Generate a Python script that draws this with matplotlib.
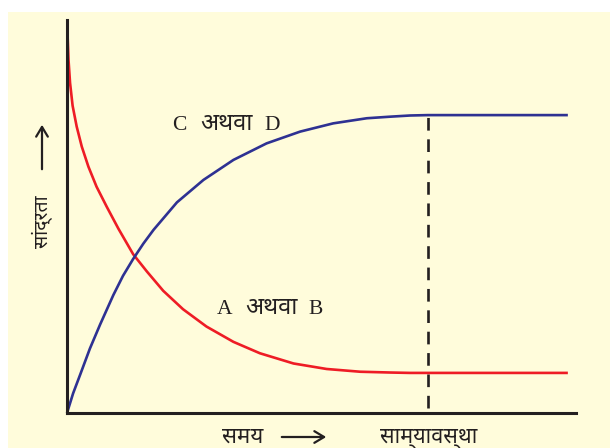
import matplotlib
matplotlib.use("Agg")
import matplotlib.pyplot as plt
from matplotlib import font_manager as fm
from matplotlib.patches import Rectangle, FancyArrowPatch

# values (time, concentration, arbitrary units 0..10)
red_t = [0.01, 0.03, 0.06, 0.11, 0.19, 0.29, 0.42, 0.58, 0.78, 1.01, 1.30, 1.57,
         1.89, 2.28, 2.74, 3.27, 3.79, 4.45, 5.10, 5.76, 6.35, 6.74, 7.07, 9.84]
red_c = [9.66, 8.98, 8.40, 7.82, 7.29, 6.78, 6.27, 5.76, 5.25, 4.69, 4.04, 3.60,
         3.11, 2.64, 2.20, 1.81, 1.52, 1.26, 1.12, 1.05, 1.03, 1.02, 1.02, 1.02]
blue_t = [0.0, 0.12, 0.26, 0.45, 0.65, 0.91, 1.10, 1.30, 1.50, 1.70, 2.16, 2.68,
          3.27, 3.92, 4.58, 5.23, 5.89, 6.35, 6.74, 7.09, 9.84]
blue_c = [0.0, 0.50, 0.98, 1.64, 2.25, 3.00, 3.49, 3.92, 4.31, 4.66, 5.36, 5.93,
          6.44, 6.86, 7.16, 7.37, 7.50, 7.54, 7.57, 7.58, 7.58]
t_eq = 7.09

word_or = "अथवा"
ylab = "सांद्रता"
xlab = "समय"
eq_lab = "साम्यावस्था"

names = {f.name for f in fm.fontManager.ttflist}
deva = [n for n in ["Noto Sans Devanagari", "Mukta", "Hind", "Poppins"] if n in names][:1]
plt.rcParams["font.family"] = ["Liberation Serif"] + deva + ["DejaVu Sans"]

ink = "#231f20"
W, H = 610, 448
fig = plt.figure(figsize=(W / 100, H / 100), dpi=100)
fig.patches.append(Rectangle((8 / W, 0), 1, (H - 12) / H, transform=fig.transFigure,
                             facecolor="#fffcdb", edgecolor="none", zorder=-5))

ax = fig.add_axes([67 / W, (H - 413) / H, 509 / W, 393 / H])
ax.patch.set_visible(False)
ax.set_xlim(0, 10)
ax.set_ylim(0, 10)
for s in ("top", "right"):
    ax.spines[s].set_visible(False)
for s in ("left", "bottom"):
    ax.spines[s].set_linewidth(2.2)
    ax.spines[s].set_color(ink)
ax.set_xticks([])
ax.set_yticks([])

line_kw = dict(lw=1.9, clip_on=False, solid_capstyle="butt", solid_joinstyle="round")
ax.plot(red_t, red_c, color="#ee1c25", **line_kw)
ax.plot(blue_t, blue_c, color="#2e3192", **line_kw)
ax.plot([t_eq, t_eq], [0.13, blue_c[-1]], color=ink, lw=1.9,
        linestyle=(0, (4.8, 3.3)), zorder=1)

# curve labels: latin letters in serif, devanagari word a bit larger
px = lambda x: (x - 67) / 50.9
py = lambda y: (413 - y) / 39.3
for (xc, xw, xd, yb, a, b) in [(172, 200, 264, 130, "C", "D"),
                               (217, 245, 308, 314, "A", "B")]:
    ax.text(px(xc), py(yb), a, fontsize=15.5, color=ink, va="baseline")
    ax.text(px(xw), py(yb), word_or, fontsize=17, color=ink, va="baseline")
    ax.text(px(xd), py(yb), b, fontsize=15.5, color=ink, va="baseline")

# axis captions with arrows
fig.text(42 / W, (H - 222) / H, ylab, rotation=90, fontsize=14, color=ink,
         ha="center", va="center")
fig.add_artist(FancyArrowPatch(
    (42 / W, (H - 172) / H), (42 / W, (H - 122) / H), transform=fig.transFigure,
    arrowstyle="->,head_length=0.5,head_width=0.3", lw=1.6, color=ink,
    mutation_scale=14))
fig.text(243 / W, (H - 429) / H, xlab, fontsize=16, color=ink,
         ha="center", va="top")
fig.add_artist(FancyArrowPatch(
    (279 / W, (H - 437) / H), (329 / W, (H - 437) / H), transform=fig.transFigure,
    arrowstyle="->,head_length=0.5,head_width=0.3", lw=1.6, color=ink,
    mutation_scale=14))
fig.text(429 / W, (H - 429) / H, eq_lab, fontsize=15.5, color=ink,
         ha="center", va="top")

fig.savefig("out.png", dpi=100)
